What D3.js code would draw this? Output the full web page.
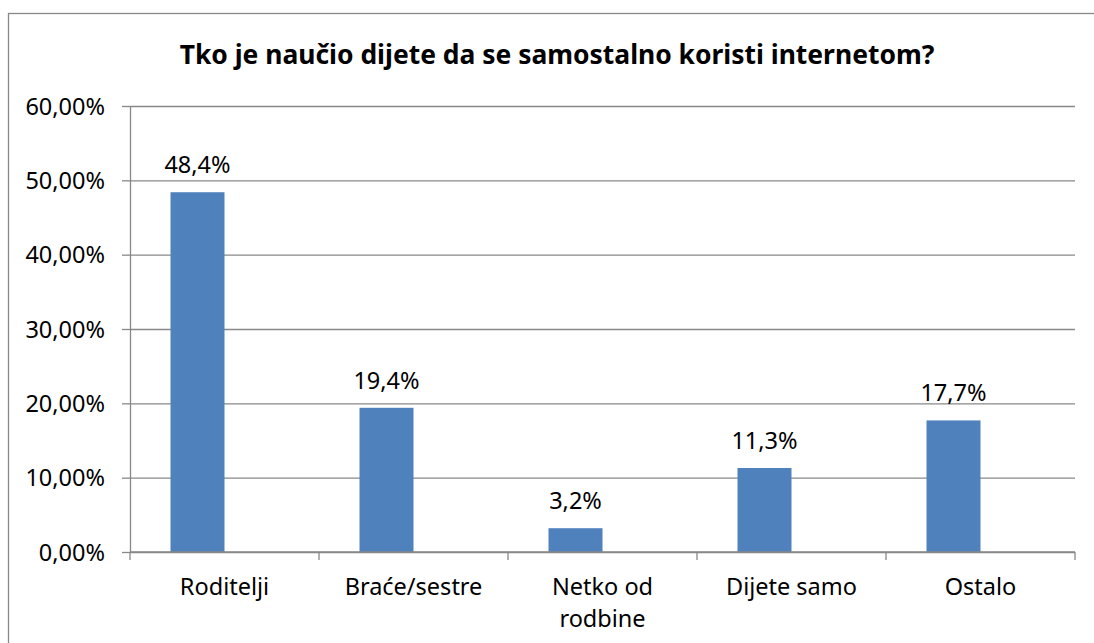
<!DOCTYPE html>
<html>
<head>
<meta charset="utf-8">
<script src="https://cdn.jsdelivr.net/npm/d3@7"></script>
<title>Tko je naučio dijete</title>
<style>
  body { margin: 0; background: #fff; }
  text { font-family: "Noto Sans", "Open Sans", sans-serif; fill: #000; }
</style>
</head>
<body>
<div id="chart"></div>
<script>
// data
var categories = ["Roditelji", "Braće/sestre", "Netko od rodbine", "Dijete samo", "Ostalo"];
var values = [0.484, 0.194, 0.032, 0.113, 0.177];
var yTicks = [0, 0.1, 0.2, 0.3, 0.4, 0.5, 0.6];
var title = "Tko je naučio dijete da se samostalno koristi internetom?";

(function(){
  var width = 1094, height = 643;
  var left = 130, right = 1075, top = 106, bottom = 552;
  var fs = "23.5px";

  var hr = d3.formatLocale({decimal: ",", thousands: ".", grouping: [3], currency: ["", " kn"]});
  var tickFmt = hr.format(".2%");
  var labelFmt = hr.format(".1%");

  var svg = d3.select("#chart").append("svg")
      .attr("width", width).attr("height", height);

  // chart border (runs off the picture on right and bottom)
  svg.append("rect")
     .attr("x", 8.5).attr("y", 13.5)
     .attr("width", 1200).attr("height", 800)
     .attr("fill", "none").attr("stroke", "#888").attr("stroke-width", 1.3);

  var t = svg.append("text")
     .attr("x", 557).attr("y", 64)
     .attr("text-anchor", "middle")
     .style("font-weight", "bold")
     .style("font-size", "24px")
     .text(title);
  // fit title to the width it has in the reference
  var tw = t.node().getComputedTextLength();
  t.style("font-size", (24 * 755 / tw) + "px");

  var x0 = d3.scaleBand().domain(categories).range([left, right]);
  // two series slots per category, second one empty (as in the original)
  var x1 = d3.scaleBand().domain(["a", "b"]).range([0, x0.bandwidth()]).paddingOuter(0.75);
  var y = d3.scaleLinear().domain([0, 0.6]).range([bottom, top]);

  // gridlines
  svg.append("g")
     .attr("transform", "translate(" + left + ",0)")
     .call(d3.axisLeft(y).tickValues(yTicks).tickSize(-(right - left)).tickFormat(""))
     .call(function(g){
        g.select(".domain").remove();
        g.selectAll("line").attr("stroke", "#888").attr("stroke-width", 1.3);
     });

  // y axis
  svg.append("g")
     .attr("transform", "translate(" + left + ",0)")
     .call(d3.axisLeft(y).tickValues(yTicks).tickSizeInner(8).tickSizeOuter(0).tickPadding(17).tickFormat(tickFmt))
     .call(function(g){
        g.select(".domain").attr("stroke", "#888").attr("stroke-width", 1.3);
        g.selectAll("line").attr("stroke", "#888").attr("stroke-width", 1.3);
        g.selectAll("text").style("font-size", fs).attr("dy", "0.34em");
     });

  // bars
  svg.selectAll("rect.bar")
     .data(values)
     .enter().append("rect")
     .attr("class", "bar")
     .attr("x", function(d, i){ return x0(categories[i]) + x1("a"); })
     .attr("y", function(d){ return y(d); })
     .attr("width", x1.bandwidth())
     .attr("height", function(d){ return bottom - y(d); })
     .attr("fill", "#4F81BD");

  // data labels
  svg.selectAll("text.val")
     .data(values)
     .enter().append("text")
     .attr("class", "val")
     .attr("x", function(d, i){ return x0(categories[i]) + x1("a") + x1.bandwidth() / 2; })
     .attr("y", function(d){ return y(d) - 19; })
     .attr("text-anchor", "middle")
     .style("font-size", fs)
     .text(function(d){ return labelFmt(d); });

  // x axis line and category ticks
  var xa = svg.append("g");
  xa.append("line")
    .attr("x1", left).attr("x2", right).attr("y1", bottom).attr("y2", bottom)
    .attr("stroke", "#888").attr("stroke-width", 1.3);
  var bounds = categories.map(function(c){ return x0(c); }).concat([right]);
  xa.selectAll("line.tk")
    .data(bounds)
    .enter().append("line")
    .attr("class", "tk")
    .attr("x1", function(d){ return d; }).attr("x2", function(d){ return d; })
    .attr("y1", bottom).attr("y2", bottom + 8)
    .attr("stroke", "#888").attr("stroke-width", 1.3);

  // category labels, wrapped like the original
  var cl = xa.selectAll("text.cat")
    .data(categories)
    .enter().append("text")
    .attr("class", "cat")
    .attr("text-anchor", "middle")
    .attr("x", function(d){ return x0(d) + x0.bandwidth() / 2; })
    .attr("y", 595)
    .style("font-size", fs);

  cl.each(function(d){
    var el = d3.select(this);
    var words = d.split(" ");
    var lines = [];
    var line = [];
    var probe = el.append("tspan");
    words.forEach(function(w){
      line.push(w);
      probe.text(line.join(" "));
      if (probe.node().getComputedTextLength() > 150 && line.length > 1) {
        line.pop();
        lines.push(line.join(" "));
        line = [w];
      }
    });
    lines.push(line.join(" "));
    probe.remove();
    lines.forEach(function(l, i){
      el.append("tspan")
        .attr("x", el.attr("x"))
        .attr("dy", i === 0 ? 0 : 32)
        .text(l);
    });
  });

})();
</script>
</body>
</html>
